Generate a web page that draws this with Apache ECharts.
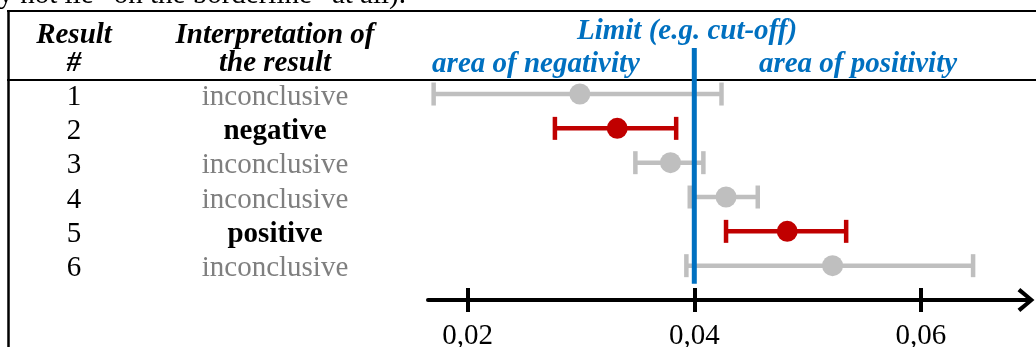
<!DOCTYPE html>
<html>
<head>
<meta charset="utf-8">
<title>Interpretation of results against a limit</title>
<script src="https://cdn.jsdelivr.net/npm/echarts@6.0.0/dist/echarts.min.js"></script>
<style>
  html, body { margin: 0; padding: 0; background: #fff; }
  #chart { width: 1036px; height: 347px; }
</style>
</head>
<body>
<div id="chart"></div>
<script>
// rows, top to bottom
const resultNo = ['1', '2', '3', '4', '5', '6']
const interpretation = ['inconclusive', 'negative', 'inconclusive', 'inconclusive', 'positive', 'inconclusive']
const estimate = [0.0299, 0.0332, 0.0379, 0.0428, 0.0482, 0.0522]
const lowerBound = [0.0170, 0.0277, 0.0348, 0.0396, 0.0428, 0.0393]
const upperBound = [0.0424, 0.0384, 0.0408, 0.0456, 0.0534, 0.0646]
const limit = 0.04
const tickValues = [0.02, 0.04, 0.06]

const SERIF = '"Liberation Serif", "Times New Roman", serif'
const GREY = '#BFBFBF'
const RED = '#C00000'
const BLUE = '#0070C0'

// inconclusive results are greyed out
function rowColor (i) {
  return interpretation[i] === 'inconclusive' ? GREY : RED
}
const rowPos = resultNo.map((_, i) => i + 1)

const dom = document.getElementById('chart')
const chart = echarts.init(dom, null, { renderer: 'canvas' })

const headText = (text, x, y, color, align) => ({
  type: 'text',
  x: x,
  y: y,
  style: {
    text: text,
    fill: color || '#000',
    fontFamily: SERIF,
    fontSize: 29,
    fontStyle: 'italic',
    fontWeight: 'bold',
    align: align || 'center',
    verticalAlign: 'middle'
  }
})
const rule = (x1, y1, x2, y2, w) => ({
  type: 'line',
  shape: { x1: x1, y1: y1, x2: x2, y2: y2 },
  style: { stroke: '#000', lineWidth: w }
})

const option = {
  animation: false,
  backgroundColor: '#fff',
  grid: {
    left: 428,
    right: 8,
    top: 80.3,
    bottom: 47,
    containLabel: false,
    outerBoundsMode: 'none'
  },
  xAxis: [
    {
      type: 'value',
      position: 'bottom',
      min: 0.016502,
      max: 0.069445,
      splitLine: { show: false },
      axisLine: {
        show: true,
        lineStyle: { color: '#000', width: 4 },
        symbol: ['none', 'path://M11,0 L22,13 L19,15.5 L11,5.5 L3,15.5 L0,13 Z'],
        symbolSize: [24, 18],
        symbolOffset: [0, -2]
      },
      axisTick: {
        show: true,
        customValues: tickValues,
        length: 12,
        lineStyle: { color: '#000', width: 4 }
      },
      axisLabel: {
        show: true,
        customValues: tickValues,
        formatter: v => v.toFixed(2).replace('.', ','),
        color: '#000',
        fontFamily: SERIF,
        fontSize: 29,
        margin: 22
      }
    },
    {
      // upper half of the crossing ticks
      type: 'value',
      position: 'bottom',
      min: 0.016502,
      max: 0.069445,
      splitLine: { show: false },
      axisLine: { show: false },
      axisTick: {
        show: true,
        inside: true,
        customValues: tickValues,
        length: 12,
        lineStyle: { color: '#000', width: 4 }
      },
      axisLabel: { show: false }
    }
  ],
  yAxis: {
    type: 'value',
    inverse: true,
    min: 0.6,
    max: 7,
    splitLine: { show: false },
    axisLine: { show: false },
    axisTick: { show: false },
    axisLabel: {
      show: true,
      customValues: rowPos,
      margin: 22,
      formatter: v => {
        const i = Math.round(v) - 1
        const key = interpretation[i] === 'inconclusive' ? 'grey' : 'bold'
        return '{num|' + resultNo[i] + '}{' + key + '|' + interpretation[i] + '}'
      },
      rich: {
        num: { width: 140, align: 'center', color: '#000', fontFamily: SERIF, fontSize: 29, padding: [6, 0, 0, 0] },
        grey: { width: 262, align: 'center', color: '#7F7F7F', fontFamily: SERIF, fontSize: 29, padding: [6, 0, 0, 0] },
        bold: { width: 262, align: 'center', color: '#000', fontWeight: 'bold', fontFamily: SERIF, fontSize: 29, padding: [6, 0, 0, 0] }
      }
    }
  },
  graphic: [
    {
      type: 'text',
      x: 406,
      y: -5,
      style: {
        text: 'it may not lie \u201Con the borderline\u201D at all).',
        fill: '#000',
        fontFamily: SERIF,
        fontSize: 29,
        align: 'right',
        verticalAlign: 'middle'
      }
    },
    rule(7, 11, 1036, 11, 2),
    rule(7, 80, 1036, 80, 2),
    rule(8.5, 10, 8.5, 347, 2.5),
    headText('Result', 74, 36),
    headText('#', 74, 64),
    headText('Interpretation of', 275, 36),
    headText('the result', 275, 64),
    headText('Limit (e.g. cut-off)', 687, 32, BLUE),
    headText('area of negativity', 536, 65, BLUE),
    headText('area of positivity', 858, 65, BLUE)
  ],
  series: [
    {
      name: 'interval',
      type: 'custom',
      xAxisIndex: 0,
      data: rowPos.map((y, i) => [lowerBound[i], upperBound[i], y]),
      renderItem (params, api) {
        const lo = api.coord([api.value(0), api.value(2)])
        const hi = api.coord([api.value(1), api.value(2)])
        const color = rowColor(params.dataIndex)
        const cap = 11.5
        const st = { stroke: color, lineWidth: 4.5 }
        return {
          type: 'group',
          children: [
            { type: 'line', shape: { x1: lo[0], y1: lo[1], x2: hi[0], y2: hi[1] }, style: st },
            { type: 'line', shape: { x1: lo[0], y1: lo[1] - cap, x2: lo[0], y2: lo[1] + cap }, style: st },
            { type: 'line', shape: { x1: hi[0], y1: hi[1] - cap, x2: hi[0], y2: hi[1] + cap }, style: st }
          ]
        }
      },
      z: 2
    },
    {
      name: 'estimate',
      type: 'scatter',
      xAxisIndex: 0,
      symbol: 'circle',
      symbolSize: 21,
      data: rowPos.map((y, i) => ({
        value: [estimate[i], y],
        itemStyle: { color: rowColor(i), opacity: 1 }
      })),
      z: 3
    },
    {
      name: 'limit',
      type: 'custom',
      xAxisIndex: 0,
      clip: false,
      // the limit line runs up into the header
      data: [[limit, -0.34, 6.53]],
      renderItem (params, api) {
        const top = api.coord([api.value(0), api.value(1)])
        const bottom = api.coord([api.value(0), api.value(2)])
        return {
          type: 'line',
          shape: { x1: top[0], y1: top[1], x2: bottom[0], y2: bottom[1] },
          style: { stroke: BLUE, lineWidth: 5 }
        }
      },
      z: 4
    }
  ]
}

chart.setOption(option)
window.addEventListener('resize', () => chart.resize())
</script>
</body>
</html>
